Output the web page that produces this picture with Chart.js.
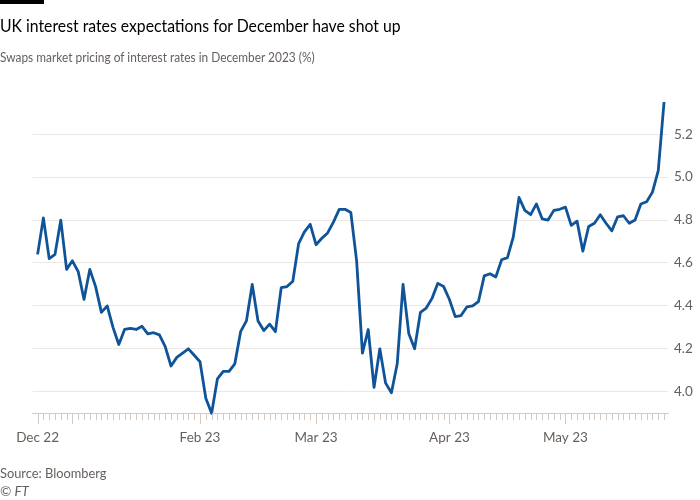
<!DOCTYPE html>
<html>
<head>
<meta charset="utf-8">
<script src="https://cdn.jsdelivr.net/npm/chart.js@4/dist/chart.umd.min.js"></script>
<style>
  body { margin: 0; background: #fff; }
  #wrap { position: relative; width: 700px; height: 500px; font-family: Lato, sans-serif; overflow: hidden; }
  #bar { position: absolute; left: 0; top: 0; width: 44px; height: 4px; background: #000; }
  .txt { position: absolute; left: 0; white-space: nowrap; transform-origin: 0 0; line-height: 1; }
  #title { top: 17px; font-size: 17.5px; color: #000; transform: scaleX(0.9); }
  #subtitle { top: 51px; font-size: 13.5px; color: #66605c; transform: scaleX(0.88); }
  #source { top: 467px; font-size: 13.5px; color: #66605c; transform: scaleX(0.95); }
  #copy { top: 485px; font-size: 13.5px; color: #66605c; font-style: italic; }
  canvas { position: absolute; left: 0; top: 0; }
</style>
</head>
<body>
<div id="wrap">
  <canvas id="chart" width="700" height="500"></canvas>
  <div id="bar"></div>
  <div class="txt" id="title">UK interest rates expectations for December have shot up</div>
  <div class="txt" id="subtitle">Swaps market pricing of interest rates in December 2023 (%)</div>
  <div class="txt" id="source">Source: Bloomberg</div>
  <div class="txt" id="copy">© FT</div>
</div>
<script>
// swaps pricing for Dec 2023, one value per trading day (Dec 22 -> late May 23)
var rates = [
  4.64, 4.81, 4.62, 4.64, 4.80, 4.57, 4.61, 4.56, 4.43, 4.57,
  4.49, 4.37, 4.40, 4.30, 4.22, 4.29, 4.295, 4.29, 4.305, 4.27,
  4.275, 4.265, 4.21, 4.12, 4.16, 4.18, 4.20, 4.17, 4.14, 3.97,
  3.90, 4.06, 4.095, 4.095, 4.13, 4.28, 4.33, 4.50, 4.33, 4.285,
  4.315, 4.28, 4.485, 4.49, 4.515, 4.69, 4.745, 4.78, 4.685, 4.715,
  4.74, 4.79, 4.85, 4.85, 4.835, 4.61, 4.18, 4.29, 4.02, 4.20,
  4.04, 3.995, 4.13, 4.50, 4.27, 4.20, 4.37, 4.39, 4.435, 4.505,
  4.49, 4.43, 4.35, 4.355, 4.395, 4.40, 4.42, 4.54, 4.55, 4.535,
  4.615, 4.625, 4.72, 4.905, 4.845, 4.825, 4.875, 4.805, 4.80, 4.845,
  4.85, 4.86, 4.775, 4.795, 4.655, 4.77, 4.785, 4.825, 4.785, 4.75,
  4.815, 4.82, 4.785, 4.80, 4.875, 4.885, 4.93, 5.03, 5.35
];

// month ticks (index into rates) and their labels; Jan tick has no label
var monthIndex = [0, 6, 28, 48, 71, 91];
var monthLabels = ["Dec 22", "", "Feb 23", "Mar 23", "Apr 23", "May 23"];

var yTicks = [4.0, 4.2, 4.4, 4.6, 4.8, 5.0, 5.2];

var tickColor = "#d3cbc3";
var gridColor = "#ece7e2";
var labelColor = "#66605c";

var points = rates.map(function (v, i) { return { x: i, y: v }; });

// small ticks for every day, longer ones at month starts
var dayTicks = {
  id: "dayTicks",
  afterDraw: function (chart) {
    var ctx = chart.ctx, xs = chart.scales.x, bottom = chart.chartArea.bottom;
    ctx.save();
    ctx.strokeStyle = tickColor;
    ctx.lineWidth = 1;
    for (var i = 0; i < rates.length; i++) {
      var px = Math.round(xs.getPixelForValue(i)) + 0.5;
      var len = monthIndex.indexOf(i) >= 0 ? 11 : 7;
      ctx.beginPath();
      ctx.moveTo(px, bottom);
      ctx.lineTo(px, bottom + len);
      ctx.stroke();
    }
    ctx.restore();
  }
};

new Chart(document.getElementById("chart"), {
  type: "line",
  data: {
    datasets: [{
      data: points,
      borderColor: "#0f5499",
      borderWidth: 2.8,
      pointRadius: 0,
      tension: 0,
      borderJoinStyle: "round",
      clip: false
    }]
  },
  options: {
    responsive: false,
    animation: false,
    events: [],
    layout: { padding: { left: 21, top: 102, right: 0, bottom: 0 } },
    plugins: { legend: { display: false }, tooltip: { enabled: false } },
    scales: {
      x: {
        type: "linear",
        min: -0.85,
        max: 108.68,
        afterBuildTicks: function (scale) {
          scale.ticks = monthIndex.map(function (v) { return { value: v }; });
        },
        afterFit: function (scale) { scale.height = 86.8; },
        grid: { display: false, drawTicks: false },
        border: { display: true, color: tickColor, width: 1 },
        ticks: {
          autoSkip: false,
          maxRotation: 0,
          padding: 16,
          color: labelColor,
          font: { family: "Lato", size: 13.5 },
          callback: function (v) {
            var k = monthIndex.indexOf(v);
            return k >= 0 ? monthLabels[k] : "";
          }
        }
      },
      y: {
        position: "right",
        min: 3.9,
        max: 5.35,
        afterBuildTicks: function (scale) {
          scale.ticks = yTicks.map(function (v) { return { value: v }; });
        },
        afterFit: function (scale) { scale.width = 32; },
        grid: { color: gridColor, drawTicks: false },
        border: { display: false },
        ticks: {
          padding: 6,
          color: labelColor,
          font: { family: "Lato", size: 13.5 },
          callback: function (v) { return v.toFixed(1); }
        }
      }
    }
  },
  plugins: [dayTicks]
});
</script>
</body>
</html>
